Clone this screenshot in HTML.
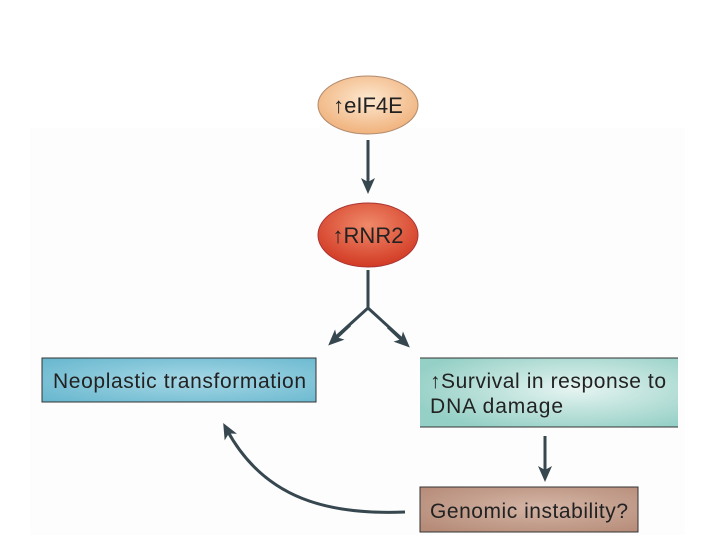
<!DOCTYPE html>
<html><head><style>
body{margin:0;width:720px;height:540px;background:#fff;overflow:hidden;font-family:"Liberation Sans",sans-serif;}
</style></head><body>
<svg width="720" height="540" viewBox="0 0 720 540">
<defs>
<radialGradient id="g1" cx="50%" cy="40%" r="60%"><stop offset="0" stop-color="#fde8d0"/><stop offset="1" stop-color="#f0b27c"/></radialGradient>
<radialGradient id="g2" cx="50%" cy="35%" r="65%"><stop offset="0" stop-color="#f08a6a"/><stop offset="1" stop-color="#d23a24"/></radialGradient>
<radialGradient id="g3" cx="55%" cy="50%" r="70%"><stop offset="0" stop-color="#a6d8e6"/><stop offset="1" stop-color="#6ab8cf"/></radialGradient>
<radialGradient id="g4" cx="60%" cy="45%" r="65%"><stop offset="0" stop-color="#e6f4f1"/><stop offset="1" stop-color="#95d0c6"/></radialGradient>
<radialGradient id="g5" cx="55%" cy="45%" r="70%"><stop offset="0" stop-color="#d4b5a6"/><stop offset="1" stop-color="#b68b78"/></radialGradient>
<marker id="a" markerWidth="16" markerHeight="14" refX="8" refY="7" orient="auto" markerUnits="userSpaceOnUse"><path d="M0,0 L16,7 L0,14 L4,7z" fill="#36474f"/></marker>
</defs>
<rect x="30" y="128" width="655" height="407" fill="#fdfdfd"/>
<ellipse cx="368" cy="105" rx="50" ry="29" fill="url(#g1)" stroke="#b08a6e" stroke-width="1"/>
<text x="368" y="113" font-size="22" text-anchor="middle" fill="#222">↑eIF4E</text>
<line x1="368" y1="140" x2="368" y2="186" stroke="#36474f" stroke-width="3" marker-end="url(#a)"/>
<ellipse cx="368" cy="235" rx="50" ry="32" fill="url(#g2)" stroke="#a33" stroke-width="1"/>
<text x="368" y="243" font-size="22" text-anchor="middle" fill="#222">↑RNR2</text>
<path d="M368 270 L368 308 L336 337 M368 308 L402 339" stroke="#36474f" stroke-width="3" fill="none"/>
<line x1="350" y1="325" x2="334" y2="340" stroke="#36474f" stroke-width="3" marker-end="url(#a)"/>
<line x1="388" y1="327" x2="404" y2="342" stroke="#36474f" stroke-width="3" marker-end="url(#a)"/>
<rect x="42" y="358" width="274" height="44" fill="url(#g3)" stroke="#333" stroke-width="1"/>
<text x="53" y="388" font-size="21" fill="#222" textLength="253">Neoplastic transformation</text>
<rect x="420" y="358" width="258" height="69" fill="url(#g4)"/>
<line x1="420" y1="358" x2="678" y2="358" stroke="#333"/><line x1="420" y1="427" x2="678" y2="427" stroke="#333"/>
<text x="430" y="388" font-size="21" fill="#222" textLength="236">↑Survival in response to</text>
<text x="430" y="413" font-size="21" fill="#222" textLength="133">DNA damage</text>
<line x1="545" y1="436" x2="545" y2="474" stroke="#36474f" stroke-width="3" marker-end="url(#a)"/>
<rect x="420" y="487" width="218" height="45" fill="url(#g5)" stroke="#333" stroke-width="1"/>
<text x="430" y="518" font-size="21" fill="#222" textLength="198">Genomic instability?</text>
<path d="M405 512 C330 515 265 500 227 430" stroke="#36474f" stroke-width="3" fill="none" marker-end="url(#a)"/>
</svg>
</body></html>
